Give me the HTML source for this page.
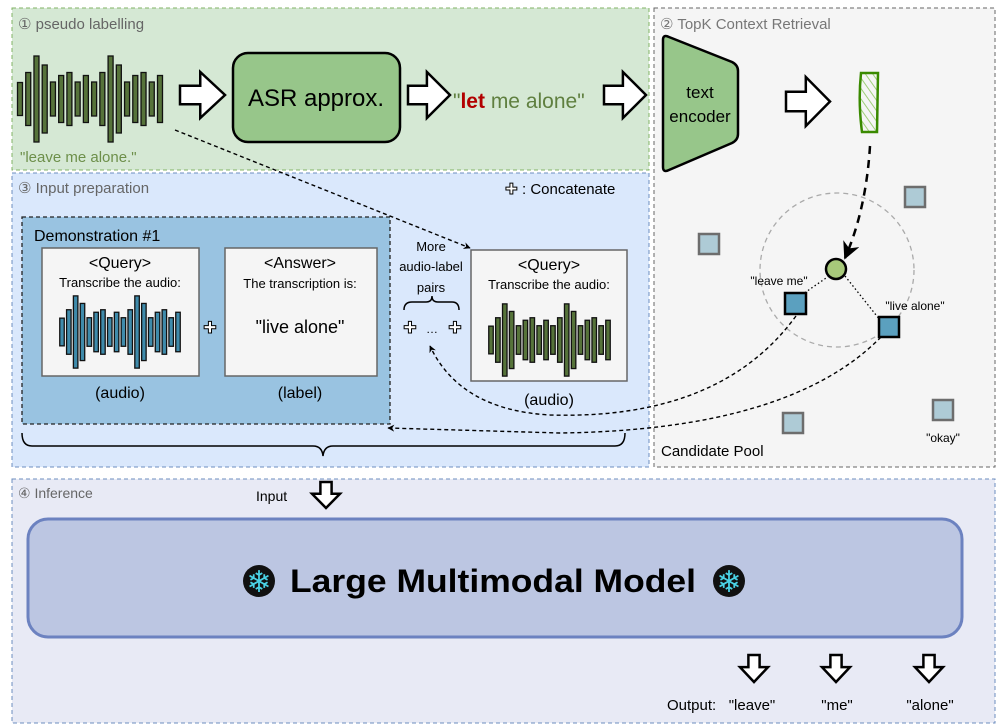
<!DOCTYPE html>
<html><head><meta charset="utf-8"><style>
html,body{margin:0;padding:0;background:#fff}
svg{display:block;font-family:"Liberation Sans","DejaVu Sans",sans-serif}
</style></head><body>
<svg id="s" width="997" height="727" viewBox="0 0 997 727" xmlns="http://www.w3.org/2000/svg">
<defs>
<marker id="ah" viewBox="0 0 10 10" refX="9" refY="5" markerWidth="7" markerHeight="7" orient="auto"><path d="M0,0 L10,5 L0,10 L3,5 z" fill="#000"/></marker>
<marker id="ahb" viewBox="0 0 10 10" refX="9" refY="5" markerWidth="5" markerHeight="5" orient="auto"><path d="M0,0 L10,5 L0,10 L3,5 z" fill="#000"/></marker>
<pattern id="hatch" width="6" height="8" patternUnits="userSpaceOnUse" patternTransform="rotate(-35)"><line x1="0" y1="0" x2="0" y2="8" stroke="#9fcf7a" stroke-width="2"/></pattern>
</defs>
<rect x="12" y="8" width="637" height="162" fill="#d5e8d4" stroke="#82b366" stroke-dasharray="4,3"/>
<rect x="654" y="8" width="341" height="459" fill="#f5f5f5" stroke="#666" stroke-dasharray="4,3"/>
<rect x="12" y="173" width="637" height="294" fill="#dae8fc" stroke="#6c8ebf" stroke-dasharray="4,3"/>
<rect x="12" y="479" width="983" height="244" fill="#e8eaf5" stroke="#6c8ebf" stroke-dasharray="4,3"/>
<text x="18" y="29" font-size="15" fill="#666">① pseudo labelling</text>
<text x="660" y="29" font-size="15" fill="#777">② TopK Context Retrieval</text>
<text x="18" y="193" font-size="15" fill="#666">③ Input preparation</text>
<text x="18" y="498" font-size="14" fill="#666">④ Inference</text>
<g id="wave1"></g>
<text x="20" y="162" font-size="15" fill="#6d8f4a">"leave me alone."</text>
<rect x="233" y="53" width="167" height="89" rx="15" fill="#97c68a" stroke="#000" stroke-width="2.5"/>
<text x="316" y="106" font-size="24" text-anchor="middle">ASR approx.</text>
<text x="453" y="108" font-size="21" fill="#5f7f3f">"<tspan fill="#b20000" font-weight="bold">let</tspan> me alone"</text>
<g id="arrows" fill="#fff" stroke="#000" stroke-width="2.5" stroke-linejoin="miter"></g>
<path d="M663,40 Q663,34 669,37 L732,62 Q738,65 738,71 L738,134 Q738,140 732,143 L669,170 Q663,173 663,167 Z" fill="#97c68a" stroke="#000" stroke-width="2.5"/>
<text x="700" y="98" font-size="17" text-anchor="middle">text</text>
<text x="700" y="122" font-size="17" text-anchor="middle">encoder</text>
<path d="M861,73 L878,73 L877,132 L862,132 Q858,102 861,73 Z" fill="url(#hatch)" stroke="#3a8a00" stroke-width="2.5"/>
<circle cx="837" cy="270" r="77" fill="none" stroke="#aaa" stroke-width="1.3" stroke-dasharray="5,4"/>
<path d="M870,146 Q866,210 845,258" fill="none" stroke="#000" stroke-width="2.5" stroke-dasharray="8,6" marker-end="url(#ah)"/>
<line x1="829" y1="276" x2="800" y2="296" stroke="#000" stroke-width="1.3" stroke-dasharray="1.5,2.5"/>
<line x1="845" y1="276" x2="880" y2="320" stroke="#000" stroke-width="1.3" stroke-dasharray="1.5,2.5"/>
<circle cx="836" cy="269" r="10" fill="#a7c97a" stroke="#000" stroke-width="2.5"/>
<g fill="#aecbd6" stroke="#6d6d6d" stroke-width="2.5">
<rect x="905" y="187" width="20" height="20"/><rect x="699" y="234" width="20" height="20"/>
<rect x="783" y="413" width="20" height="20"/><rect x="933" y="400" width="20" height="20"/></g>
<g fill="#5ba0bf" stroke="#000" stroke-width="2.5">
<rect x="785" y="293" width="21" height="21"/><rect x="879" y="317" width="20" height="20"/></g>
<text x="779" y="285" font-size="12" text-anchor="middle">"leave me"</text>
<text x="915" y="310" font-size="12" text-anchor="middle">"live alone"</text>
<text x="943" y="442" font-size="12" text-anchor="middle">"okay"</text>
<text x="661" y="456" font-size="15">Candidate Pool</text>
<text x="505" y="194" font-size="15" fill="#fff" stroke="#000" stroke-width="1">✚</text>
<text x="522" y="194" font-size="15">: Concatenate</text>
<rect x="22" y="217" width="368" height="207" fill="#99c3e1" stroke="#222" stroke-width="1.3" stroke-dasharray="4,3"/>
<text x="34" y="241" font-size="16">Demonstration #1</text>
<rect x="42" y="248" width="157" height="128" fill="#f5f5f5" stroke="#666" stroke-width="1.5"/>
<text x="120" y="268" font-size="16" text-anchor="middle">&lt;Query&gt;</text>
<text x="120" y="287" font-size="13" text-anchor="middle">Transcribe the audio:</text>
<g id="wave2"></g>
<text x="210" y="333" font-size="16" text-anchor="middle" fill="#fff" stroke="#000" stroke-width="1">✚</text>
<rect x="225" y="248" width="152" height="128" fill="#f5f5f5" stroke="#666" stroke-width="1.5"/>
<text x="300" y="268" font-size="16" text-anchor="middle">&lt;Answer&gt;</text>
<text x="300" y="288" font-size="13" text-anchor="middle">The transcription is:</text>
<text x="300" y="333" font-size="18" text-anchor="middle">"live alone"</text>
<text x="120" y="398" font-size="16" text-anchor="middle">(audio)</text>
<text x="300" y="398" font-size="16" text-anchor="middle">(label)</text>
<text x="431" y="251" font-size="13" text-anchor="middle">More</text>
<text x="431" y="271" font-size="13" text-anchor="middle">audio-label</text>
<text x="431" y="292" font-size="13" text-anchor="middle">pairs</text>
<path d="M404,310 Q404,302 412,302 L426,302 Q432,302 432,296 Q432,302 438,302 L452,302 Q459,302 459,310" fill="none" stroke="#000" stroke-width="1.5"/>
<text x="410" y="333" font-size="16" text-anchor="middle" fill="#fff" stroke="#000" stroke-width="1">✚</text>
<text x="432" y="333" font-size="12" text-anchor="middle">…</text>
<text x="455" y="333" font-size="16" text-anchor="middle" fill="#fff" stroke="#000" stroke-width="1">✚</text>
<rect x="471" y="250" width="156" height="131" fill="#f5f5f5" stroke="#666" stroke-width="1.5"/>
<text x="549" y="270" font-size="16" text-anchor="middle">&lt;Query&gt;</text>
<text x="549" y="289" font-size="13" text-anchor="middle">Transcribe the audio:</text>
<g id="wave3"></g>
<text x="549" y="405" font-size="16" text-anchor="middle">(audio)</text>
<path d="M22,433 Q22,446 32,446 L313,446 Q322,446 323,456 Q324,446 333,446 L615,446 Q625,446 625,433" fill="none" stroke="#000" stroke-width="1.5"/>
<path d="M175,130 L470,248" fill="none" stroke="#000" stroke-width="1.4" stroke-dasharray="4,3" marker-end="url(#ahb)"/>
<path d="M796,316 Q720,420 550,415 Q460,410 430,346" fill="none" stroke="#000" stroke-width="1.4" stroke-dasharray="4,3" marker-end="url(#ahb)"/>
<path d="M881,337 Q790,430 560,433 L388,428" fill="none" stroke="#000" stroke-width="1.4" stroke-dasharray="4,3" marker-end="url(#ahb)"/>
<text x="256" y="501" font-size="14">Input</text>
<rect x="28" y="519" width="934" height="118" rx="20" fill="#bcc6e2" stroke="#6c82c0" stroke-width="3"/>
<circle cx="259" cy="581" r="16" fill="#111"/><text x="259" y="592" font-size="30" text-anchor="middle" fill="#4ad3e6">❄</text>
<circle cx="729" cy="581" r="16" fill="#111"/><text x="729" y="592" font-size="30" text-anchor="middle" fill="#4ad3e6">❄</text>
<text x="290" y="592" font-size="32" font-weight="bold" textLength="406" lengthAdjust="spacingAndGlyphs">Large Multimodal Model</text>
<text x="667" y="710" font-size="15">Output:</text>
<text x="752" y="710" font-size="15" text-anchor="middle">"leave"</text>
<text x="837" y="710" font-size="15" text-anchor="middle">"me"</text>
<text x="930" y="710" font-size="15" text-anchor="middle">"alone"</text>
</svg>
<script>
var NS="http://www.w3.org/2000/svg";
function el(p,t,a){var e=document.createElementNS(NS,t);for(var k in a)e.setAttribute(k,a[k]);p.appendChild(e);return e;}
var H=[33,53,86,68,34,47,53,34,47,34,53,86,68,34,47,53,34,47];
function wave(id,x0,x1,cy,scale,fill,stroke,w){var g=document.getElementById(id);var n=H.length;var dx=(x1-x0)/(n-1);
for(var i=0;i<n;i++){var h=H[i]*scale;el(g,"rect",{x:x0+i*dx-w/2,y:cy-h/2,width:w,height:h,fill:fill,stroke:stroke,"stroke-width":1.3});}}
wave("wave1",20,160,99,1,"#56733a","#111",5);
wave("wave2",62,178,332,0.84,"#3f8bab","#111",4.5);
wave("wave3",491,608,340,0.84,"#56733a","#111",4.5);
var A=document.getElementById("arrows");
function ra(x0,y0,w,h){var s=x0+w*0.45,t=y0+h*0.3,b=y0+h*0.7;
el(A,"path",{d:"M"+x0+","+t+" L"+s+","+t+" L"+s+","+y0+" L"+(x0+w)+","+(y0+h/2)+" L"+s+","+(y0+h)+" L"+s+","+b+" L"+x0+","+b+" Z"});}
function da(x0,y0,w,h){var s=y0+h*0.45,l=x0+w*0.3,r=x0+w*0.7;
el(A,"path",{d:"M"+l+","+y0+" L"+r+","+y0+" L"+r+","+s+" L"+(x0+w)+","+s+" L"+(x0+w/2)+","+(y0+h)+" L"+x0+","+s+" L"+l+","+s+" Z"});}
ra(180,72,45,46);ra(408,72,42,46);ra(604,72,42,46);ra(786,77,44,49);
da(312,482,28,26);da(740,655,28,27);da(822,655,28,27);da(915,655,28,27);
</script>
</body></html>
